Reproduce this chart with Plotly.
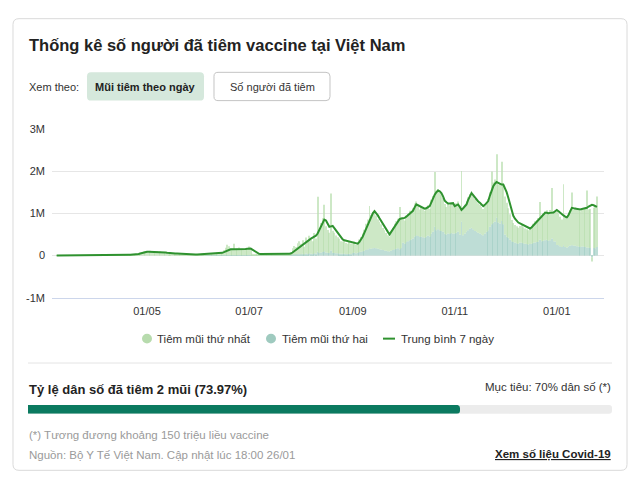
import plotly.graph_objects as go
import pandas as pd

# ---------------- data (thousands of doses per day) ----------------
# first doses
d1_mar = [1,1,2,3,4,5,3,6,7,6, 5,8,9,7,6,9,10,8,7,11, 10,8,11,12]
d1_apr = [10,12,9,13,11,14,12,15,13,16, 12,17,15,18,14,19,16,20,17,21, 18,22,20,24,30,45,70,85,95,100]
d1_may = [95,70,110,85,90,75,100,80,95,70, 60,55,50,45,40,48,52,44,38,30, 25,20,22,18,24,20,19,23,17,22, 25]
d1_jun = [25,30,38,45,42,50,48,55,52,58, 50,60,55,65,62,120,180,250,210,130, 150,270,140,160,180,130,150,140,170,160]
d1_jul = [200,150,40,30,35,28,40,32,38,30, 42,35,28,36,40,33,30,38,42,35, 31,37,44,36,40,60,150,200,180,260, 300]
d1_aug = [250,320,180,380,290,420,340,300,480,360, 1300,550,700,800,1100,620,540,480,1350,520, 480,420,380,350,300,290,320,260,240,280, 250]
d1_sep = [220,260,200,250,300,350,420,500,620,700, 1000,800,850,900,780,700,650,600,520,480, 420,380,350,420,520,600,650,700,1000,720]
d1_oct = [600,550,620,650,700,650,720,780,800,700, 650,720,680,640,700,720,650,800,850,1300, 900,950,880,850,800,700,650,700,680,720, 700]
d1_nov = [650,700,720,680,1200,620,680,720,780,820, 860,800,760,720,700,680,650,620,660,700, 740,820,1250,950,1000,1500,900,950,1400,950]
d1_dec = [900,800,700,600,500,450,420,400,380,400, 420,380,360,350,340,360,400,450,500,520, 560,900,600,650,680,700,680,720,1200,700, 720]
d1_jan = [800,750,700,650,1450,700,680,800,850,1250, 850,900,880,860,850,870,880,900,1350,900, 920,-100,950,1000,1200]

# second doses
d2_mar = [0,0,0,0,0,0,0,0,0,0, 0,0,0,0,0,0,0,0,0,0, 0,0,0,0]
d2_apr = [0,0,0,0,0,0,0,0,0,0, 0,0,0,0,0,0,0,0,0,0, 0,0,0,0,0,0,0,0,0,0]
d2_may = [0,0,0,0,0,0,0,0,0,0, 0,0,0,0,0,0,0,0,0,0, 0,0,0,0,0,0,0,0,0,0, 0]
d2_jun = [0,0,1,1,2,2,2,3,3,3, 3,4,4,4,5,5,6,6,8,6, 7,8,6,8,9,6,8,7,9,8]
d2_jul = [10,8,3,3,4,3,4,3,4,3, 5,4,3,4,5,4,3,4,5,4, 4,5,6,5,6,8,20,25,22,30, 35]
d2_aug = [30,40,25,45,35,50,40,35,55,45, 90,60,70,80,100,70,65,60,120,65, 60,55,50,45,40,40,45,35,35,40, 35]
d2_sep = [60,70,55,65,80,90,100,110,130,150, 170,160,170,180,170,160,150,140,130,120, 110,100,95,110,130,150,160,170,150,180]
d2_oct = [300,280,320,340,360,380,400,450,480,460, 440,450,430,420,450,470,450,520,560,680, 600,620,600,580,560,520,500,520,510,530, 520]
d2_nov = [520,540,560,500,800,480,520,560,600,640, 660,620,580,560,540,520,500,480,520,560, 600,680,740,780,800,900,780,760,820,740]
d2_dec = [500,450,420,380,340,320,300,290,280,300, 310,290,280,270,260,270,280,300,310,320, 330,370,340,350,360,370,350,360,400,340, 330]
d2_jan = [250,240,220,200,240,200,190,210,230,240, 230,230,220,210,200,210,210,200,190,190, 180,-40,180,170,200]

# 7-day average (all doses)
avg_mar = [1,1,2,2,3,3,3,4,5,5, 5,6,6,7,7,7,8,8,8,8, 8,9,9,10]
avg_apr = [10,11,11,12,12,12,13,13,14,14, 14,15,15,16,16,16,17,17,18,18, 19,19,20,22,26,34,46,60,72,82]
avg_may = [86,87,87,86,85,84,83,83,84,82, 80,72,64,57,51,48,47,46,45,42, 36,30,26,23,22,21,21,21,20,21, 22]
avg_jun = [24,28,33,38,42,45,48,50,52,54, 55,56,58,60,62,78,100,122,140,148, 150,148,146,147,150,152,151,149,152,158]
avg_jul = [170,165,140,110,80,55,40,36,35,35, 36,36,35,35,36,36,35,35,36,36, 36,37,38,38,39,45,70,100,130,170, 210]
avg_aug = [230,260,290,320,345,370,400,425,450,470, 520,600,690,780,850,830,760,680,690,700, 650,600,540,480,430,380,360,350,340,330, 315]
avg_sep = [310,300,290,280,320,380,450,540,640,740, 840,930,1000,1050,1010,950,880,810,740,680, 620,560,500,560,640,710,770,820,860,875]
avg_oct = [885,890,920,950,980,1020,1060,1140,1210,1190, 1170,1150,1130,1110,1120,1150,1170,1260,1360,1440, 1500,1540,1520,1480,1400,1300,1260,1230,1230,1240, 1240]
avg_nov = [1170,1190,1210,1150,1080,1120,1160,1210,1320,1420, 1480,1430,1370,1320,1280,1250,1210,1170,1200,1240, 1290,1420,1560,1640,1700,1740,1720,1690,1680,1680]
avg_dec = [1600,1500,1370,1220,1080,940,870,820,780,760, 740,730,700,670,650,640,670,710,750,790, 840,880,920,970,1010,1010,1000,1010,1020,1020, 1050]
avg_jan = [1080,1050,1010,980,950,920,900,960,1040,1130, 1120,1110,1100,1090,1090,1100,1110,1120,1130,1160, 1180,1200,1190,1170,1150]

y_tick_vals = [-1000, 0, 1000, 2000, 3000]
y_tick_text = ["-1M", "0", "1M", "2M", "3M"]
x_tick_vals = ["2021-05-01", "2021-07-01", "2021-09-01", "2021-11-01", "2022-01-01"]
x_tick_text = ["01/05", "01/07", "01/09", "01/11", "01/01"]
share_two_doses = 73.97

dose1 = d1_mar + d1_apr + d1_may + d1_jun + d1_jul + d1_aug + d1_sep + d1_oct + d1_nov + d1_dec + d1_jan
dose2 = d2_mar + d2_apr + d2_may + d2_jun + d2_jul + d2_aug + d2_sep + d2_oct + d2_nov + d2_dec + d2_jan
avg7 = avg_mar + avg_apr + avg_may + avg_jun + avg_jul + avg_aug + avg_sep + avg_oct + avg_nov + avg_dec + avg_jan
assert len(dose1) == len(dose2) == len(avg7) == 324
dates = pd.date_range("2021-03-08", periods=len(dose1), freq="D")

# ---------------- layout helpers ----------------
W, H = 640, 489
FONT = "Liberation Sans, Arial, sans-serif"


def px(x):
    return x / W


def py(y):
    return 1 - y / H


def rr(x0, y0, x1, y1, r):
    pts = [
        ("M", x0 + r, y0), ("L", x1 - r, y0), ("Q", x1, y0, x1, y0 + r),
        ("L", x1, y1 - r), ("Q", x1, y1, x1 - r, y1), ("L", x0 + r, y1),
        ("Q", x0, y1, x0, y1 - r), ("L", x0, y0 + r), ("Q", x0, y0, x0 + r, y0),
    ]
    out = []
    for p in pts:
        cmd = p[0]
        coords = p[1:]
        s = []
        for i in range(0, len(coords), 2):
            s.append(f"{px(coords[i]):.5f},{py(coords[i+1]):.5f}")
        out.append(cmd + " " + " ".join(s))
    return " ".join(out) + " Z"


C_D1 = "#b8deae"
C_D2 = "#a2cec5"
C_LINE = "#2f922f"

fig = go.Figure()
fig.add_trace(go.Bar(x=dates, y=dose2, marker=dict(color=C_D2, line_width=0, opacity=0.7),
                     name="Tiêm mũi thứ hai", showlegend=False, hoverinfo="skip"))
fig.add_trace(go.Bar(x=dates, y=dose1, marker=dict(color=C_D1, line_width=0, opacity=0.7),
                     name="Tiêm mũi thứ nhất", showlegend=False, hoverinfo="skip"))
fig.add_trace(go.Scatter(x=dates, y=avg7, mode="lines", line=dict(color=C_LINE, width=2),
                         name="Trung bình 7 ngày", showlegend=False, hoverinfo="skip"))
fig.add_trace(go.Bar(x=[share_two_doses], y=[0], orientation="h", width=1,
                     marker=dict(color="#0b7a60", line_width=0, cornerradius=3),
                     xaxis="x2", yaxis="y2", showlegend=False, hoverinfo="skip"))

shapes = [
    dict(type="path", path=rr(13, 13, 627, 476, 6), xref="paper", yref="paper",
         line=dict(color="#dadada", width=1), fillcolor="white", layer="below"),
    dict(type="path", path=rr(87, 68, 204, 97, 4), xref="paper", yref="paper",
         line=dict(width=0), fillcolor="#d5e8dc", layer="below"),
    dict(type="path", path=rr(214, 68, 330, 97, 4), xref="paper", yref="paper",
         line=dict(color="#c4c4c4", width=1), fillcolor="white", layer="below"),
    dict(type="line", x0=px(28), x1=px(612), y0=py(366), y1=py(366), xref="paper", yref="paper",
         line=dict(color="#e4e4e4", width=1)),
    dict(type="path", path=rr(28, 409, 612, 418, 3), xref="paper", yref="paper",
         line=dict(width=0), fillcolor="#ececec", layer="below"),
    dict(type="circle", x0=px(142), x1=px(152), y0=py(346), y1=py(336), xref="paper", yref="paper",
         line=dict(width=0), fillcolor="#b7dbad"),
    dict(type="circle", x0=px(266), x1=px(276), y0=py(346), y1=py(336), xref="paper", yref="paper",
         line=dict(width=0), fillcolor="#9fcabf"),
    dict(type="line", x0=px(383), x1=px(395), y0=py(341), y1=py(341), xref="paper", yref="paper",
         line=dict(color=C_LINE, width=2)),
]


def ann(text, x, y, size, color="#333", anchor="left", bold=False):
    if bold:
        text = f"<b>{text}</b>"
    return dict(text=text, x=px(x), y=py(y), xref="paper", yref="paper", showarrow=False,
                xanchor=anchor, yanchor="middle", font=dict(size=size, color=color, family=FONT))


annotations = [
    ann("Thống kê số người đã tiêm vaccine tại Việt Nam", 27, 40, 16.5, "#222", bold=True),
    ann("Xem theo:", 27, 83, 11, "#333"),
    ann("Mũi tiêm theo ngày", 145.5, 83, 11, "#222", anchor="center", bold=True),
    ann("Số người đã tiêm", 272, 83, 11, "#333", anchor="center"),
    ann("Tiêm mũi thứ nhất", 155, 341, 11.5, "#333"),
    ann("Tiêm mũi thứ hai", 280, 341, 11.5, "#333"),
    ann("Trung bình 7 ngày", 399, 341, 11.5, "#333"),
    ann(f"Tỷ lệ dân số đã tiêm 2 mũi ({share_two_doses:.2f}%)", 27, 393, 13, "#222", bold=True),
    ann("Mục tiêu: 70% dân số (*)", 613, 391, 11.5, "#333", anchor="right"),
    ann("(*) Tương đương khoảng 150 triệu liều vaccine", 27, 440, 11.5, "#9a9a9a"),
    ann("Nguồn: Bộ Y Tế Việt Nam. Cập nhật lúc 18:00 26/01", 27, 460, 11.5, "#9a9a9a"),
    ann("<u>Xem số liệu Covid-19</u>", 613, 460, 11.5, "#222", anchor="right", bold=True),
]

fig.update_layout(
    width=W, height=H,
    margin=dict(l=0, r=0, t=0, b=0),
    paper_bgcolor="white", plot_bgcolor="rgba(0,0,0,0)",
    barmode="relative", bargap=0.45,
    font=dict(family=FONT, size=11, color="#333"),
    showlegend=False,
    xaxis=dict(domain=[px(52), px(604)], range=["2021-03-05 05:00", "2022-01-29 05:00"],
               tickvals=x_tick_vals, ticktext=x_tick_text, showgrid=False, zeroline=False,
               showline=True, linecolor="#ccd6eb", linewidth=1, ticks="", anchor="y",
               ticklabelstandoff=3,
               tickfont=dict(size=11, color="#333", family=FONT)),
    yaxis=dict(domain=[py(299), py(126)], range=[-1000, 3000], tickvals=y_tick_vals,
               ticktext=y_tick_text, showgrid=True, gridcolor="#e6e6e6", gridwidth=1,
               zeroline=False, showline=False, ticks="", anchor="x",
               ticklabelstandoff=6,
               tickfont=dict(size=11, color="#333", family=FONT)),
    xaxis2=dict(domain=[px(28), px(612)], range=[0, 100], visible=False, anchor="y2",
                fixedrange=True),
    yaxis2=dict(domain=[py(418), py(409)], range=[-0.5, 0.5], visible=False, anchor="x2",
                fixedrange=True),
    shapes=shapes,
    annotations=annotations,
)

fig.write_html("out.html")
